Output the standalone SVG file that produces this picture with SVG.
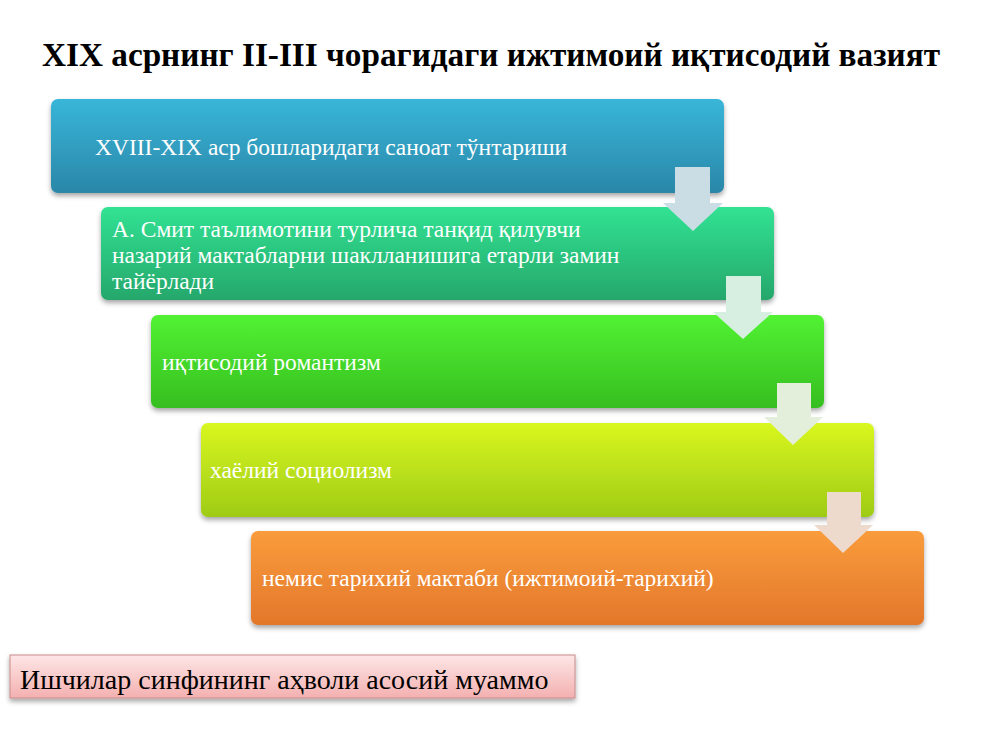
<svg xmlns="http://www.w3.org/2000/svg" width="1000" height="750" viewBox="0 0 1000 750">
<defs>
<style>
.t{font-family:"Liberation Serif","Times New Roman",serif;fill:#fff;font-size:23.5px}
.title{font-family:"Liberation Serif","Times New Roman",serif;font-weight:bold;font-size:34px;fill:#000}
.bt{font-family:"Liberation Serif","Times New Roman",serif;font-size:28px;fill:#000}
.arr{stroke:none}
</style>
<filter id="sh" x="-5%" y="-10%" width="110%" height="130%">
<feDropShadow dx="0" dy="3" stdDeviation="2.5" flood-color="#000" flood-opacity="0.35"/>
</filter>
<linearGradient id="g1" x1="0" y1="0" x2="0" y2="1"><stop offset="0" stop-color="#38b6d9"/><stop offset="1" stop-color="#2a87a8"/></linearGradient>
<linearGradient id="g2" x1="0" y1="0" x2="0" y2="1"><stop offset="0" stop-color="#31e293"/><stop offset="1" stop-color="#26a76b"/></linearGradient>
<linearGradient id="g3" x1="0" y1="0" x2="0" y2="1"><stop offset="0" stop-color="#52f233"/><stop offset="1" stop-color="#36be20"/></linearGradient>
<linearGradient id="g4" x1="0" y1="0" x2="0" y2="1"><stop offset="0" stop-color="#d9f720"/><stop offset="1" stop-color="#9ecb16"/></linearGradient>
<linearGradient id="g5" x1="0" y1="0" x2="0" y2="1"><stop offset="0" stop-color="#f99c3c"/><stop offset="1" stop-color="#e3772b"/></linearGradient>
<linearGradient id="gp" x1="0" y1="0" x2="0" y2="1"><stop offset="0" stop-color="#fde6e6"/><stop offset="1" stop-color="#f4b0b0"/></linearGradient>
</defs>
<rect width="1000" height="750" fill="#fff"/>
<text class="title" x="42" y="66" textLength="898" lengthAdjust="spacingAndGlyphs">XIX асрнинг II-III чорагидаги ижтимоий иқтисодий вазият</text>

<g id="n1">
<rect x="51" y="99" width="673" height="94" rx="7" fill="url(#g1)" filter="url(#sh)"/>
<text class="t" x="95" y="155">XVIII-XIX аср бошларидаги саноат тўнтариши</text>
</g>
<g id="n2">
<rect x="101" y="207" width="673" height="93" rx="7" fill="url(#g2)" filter="url(#sh)"/>
<text class="t" x="112" y="237">А. Смит таълимотини турлича танқид қилувчи</text>
<text class="t" x="112" y="263">назарий мактабларни шаклланишига етарли замин</text>
<text class="t" x="112" y="289">тайёрлади</text>
</g>
<g id="n3">
<rect x="151" y="315" width="673" height="93" rx="7" fill="url(#g3)" filter="url(#sh)"/>
<text class="t" x="162" y="370">иқтисодий романтизм</text>
</g>
<g id="n4">
<rect x="201" y="423" width="673" height="94" rx="7" fill="url(#g4)" filter="url(#sh)"/>
<text class="t" x="210" y="478">хаёлий социолизм</text>
</g>
<g id="n5">
<rect x="251" y="531" width="673" height="94" rx="7" fill="url(#g5)" filter="url(#sh)"/>
<text class="t" x="262" y="586">немис тарихий мактаби (ижтимоий-тарихий)</text>
</g>

<g id="connectors">
<polygon class="arr" fill="#cadde4" points="675,167 710,167 710,203 723,203 693,231 663,203 675,203"/>
<polygon class="arr" fill="#d6efe1" points="726,276 761,276 761,312 773,312 743,339 713,312 726,312"/>
<polygon class="arr" fill="#e3efdb" points="777,383 811,383 811,417 823,417 793,445 764,417 777,417"/>
<polygon class="arr" fill="#eddacc" points="827,492 861,492 861,525 873,525 843,553 814,525 827,525"/>
</g>

<g id="note">
<rect x="10" y="655" width="565" height="43" fill="url(#gp)" stroke="#c98c8c" stroke-width="1" filter="url(#sh)"/>
<text class="bt" x="20" y="689">Ишчилар синфининг аҳволи асосий муаммо</text>
</g>
</svg>
